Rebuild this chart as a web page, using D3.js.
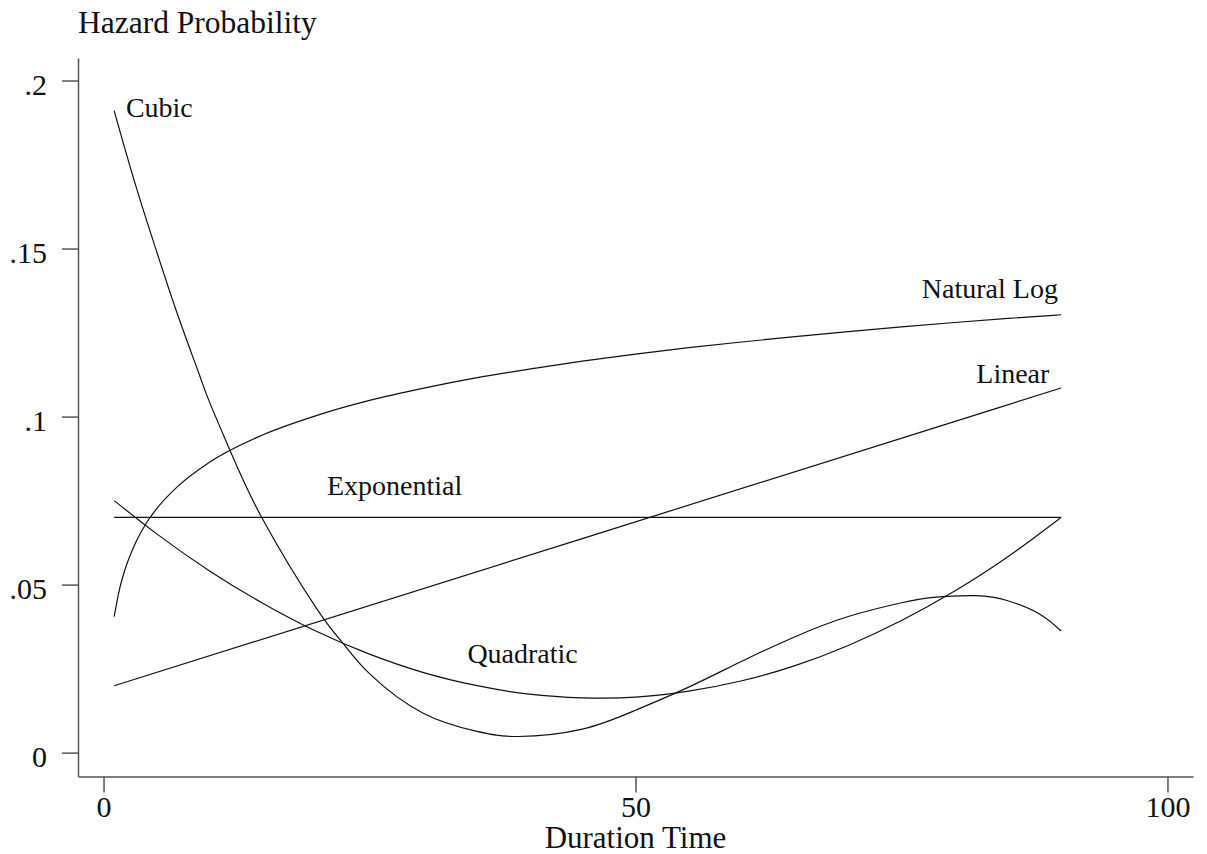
<!DOCTYPE html>
<html>
<head>
<meta charset="utf-8">
<script src="https://cdn.jsdelivr.net/npm/d3@7"></script>
<style>
  html, body { margin: 0; padding: 0; background: #fff; }
  svg text { font-family: "Liberation Serif", "Times New Roman", serif; fill: #111; }
</style>
</head>
<body>
<div id="chart"></div>
<script>
// tick values and their printed labels
const xTicks = [0, 50, 100];
const xTickLabels = ['0', '50', '100'];
const yTicks = [0, 0.05, 0.1, 0.15, 0.2];
const yTickLabels = ['0', '.05', '.1', '.15', '.2'];

// hazard curves, [duration, probability]
const cubic = [
  [1, 0.191], [3, 0.169], [5, 0.149], [7, 0.130], [9, 0.1125], [10, 0.104],
  [12, 0.0891], [15, 0.0692], [20, 0.0430], [22.5, 0.0326], [25, 0.0235],
  [30, 0.0118], [35, 0.0064], [39, 0.0048], [45, 0.0070], [50, 0.0126],
  [55, 0.0195], [60, 0.0272], [65, 0.0345], [70, 0.0405],
  [75, 0.0446], [78, 0.0462], [82, 0.0467], [85, 0.0452], [88, 0.0412],
  [90, 0.0362],
];
const quadratic = [
  [1, 0.0750], [5, 0.0651], [10, 0.0540], [15, 0.0444], [20, 0.0361],
  [25, 0.0293], [30, 0.0239], [35, 0.0200], [40, 0.0174], [45, 0.0163],
  [50, 0.0165], [55, 0.0183], [60, 0.0214], [65, 0.0259], [70, 0.0319],
  [75, 0.0393], [80, 0.0481], [85, 0.0583], [90, 0.0700],
];
const naturalLog = [
  [1, 0.0405], [1.5, 0.0486], [2, 0.0543], [3, 0.0624], [4, 0.0682],
  [5, 0.0726], [7, 0.0793], [10, 0.0865], [15, 0.0946], [20, 0.1003],
  [25, 0.1048], [30, 0.1084], [35, 0.1115], [40, 0.1141], [45, 0.1165],
  [50, 0.1186], [55, 0.1205], [60, 0.1222], [65, 0.1238], [70, 0.1253],
  [75, 0.1267], [80, 0.1280], [85, 0.1292], [90, 0.1303],
];
const linear = [[1, 0.0199], [45, 0.0637], [90, 0.1085]];
const exponential = [[1, 0.070], [90, 0.070]];

// curve captions, placed in data units
const captions = [
  { text: 'Cubic', x: 2.1, y: 0.1892, anchor: 'start' },
  { text: 'Natural Log', x: 89.7, y: 0.1353, anchor: 'end' },
  { text: 'Linear', x: 88.9, y: 0.1100, anchor: 'end' },
  { text: 'Exponential', x: 21.0, y: 0.0767, anchor: 'start' },
  { text: 'Quadratic', x: 34.2, y: 0.0268, anchor: 'start' },
];

const width = 1207;
const height = 854;
const axisColor = '#555';

const svg = d3.select('#chart')
  .append('svg')
  .attr('width', width)
  .attr('height', height);

// axes run a little past the ticks, as in the original
const x = d3.scaleLinear()
  .domain([-2.4, 102.4])
  .range([78, 1193]);

const y = d3.scaleLinear()
  .domain([-0.0071, 0.2067])
  .range([776.5, 58]);

const xAxis = d3.axisBottom(x)
  .tickValues(xTicks)
  .tickFormat((d, i) => xTickLabels[i])
  .tickSize(16)
  .tickSizeOuter(0)
  .tickPadding(4);

const yAxis = d3.axisLeft(y)
  .tickValues(yTicks)
  .tickFormat((d, i) => yTickLabels[i])
  .tickSize(16)
  .tickSizeOuter(0)
  .tickPadding(15);

const gx = svg.append('g')
  .attr('transform', `translate(0,${y.range()[0]})`)
  .call(xAxis);

const gy = svg.append('g')
  .attr('transform', `translate(${x.range()[0]},0)`)
  .call(yAxis);

[gx, gy].forEach((g) => {
  g.attr('font-family', null).attr('font-size', null);
  g.selectAll('path, line')
    .attr('stroke', axisColor)
    .attr('stroke-width', 1.5);
  g.selectAll('text')
    .style('font-size', '30px')
    .attr('fill', '#111');
});
gy.selectAll('text').attr('dy', '0.46em');
gx.selectAll('text').attr('dy', '0.68em');

// smooth fits go through a natural spline, the log one through monotone
const smooth = d3.line()
  .x((d) => x(d[0]))
  .y((d) => y(d[1]))
  .curve(d3.curveNatural);

const monotone = d3.line()
  .x((d) => x(d[0]))
  .y((d) => y(d[1]))
  .curve(d3.curveMonotoneX);

const curves = [
  { points: cubic, gen: smooth },
  { points: quadratic, gen: smooth },
  { points: naturalLog, gen: monotone },
  { points: linear, gen: monotone },
  { points: exponential, gen: monotone },
];

svg.append('g')
  .attr('fill', 'none')
  .attr('stroke', '#111')
  .attr('stroke-width', 1.2)
  .selectAll('path')
  .data(curves)
  .enter().append('path')
    .attr('d', (d) => d.gen(d.points));

svg.append('g')
  .selectAll('text')
  .data(captions)
  .enter().append('text')
    .attr('x', (d) => x(d.x))
    .attr('y', (d) => y(d.y))
    .attr('text-anchor', (d) => d.anchor)
    .style('font-size', '28px')
    .text((d) => d.text);

// titles
svg.append('text')
  .attr('x', 78)
  .attr('y', 33)
  .style('font-size', '31.5px')
  .text('Hazard Probability');

svg.append('text')
  .attr('x', (x.range()[0] + x.range()[1]) / 2)
  .attr('y', 848)
  .attr('text-anchor', 'middle')
  .style('font-size', '31px')
  .text('Duration Time');
</script>
</body>
</html>
